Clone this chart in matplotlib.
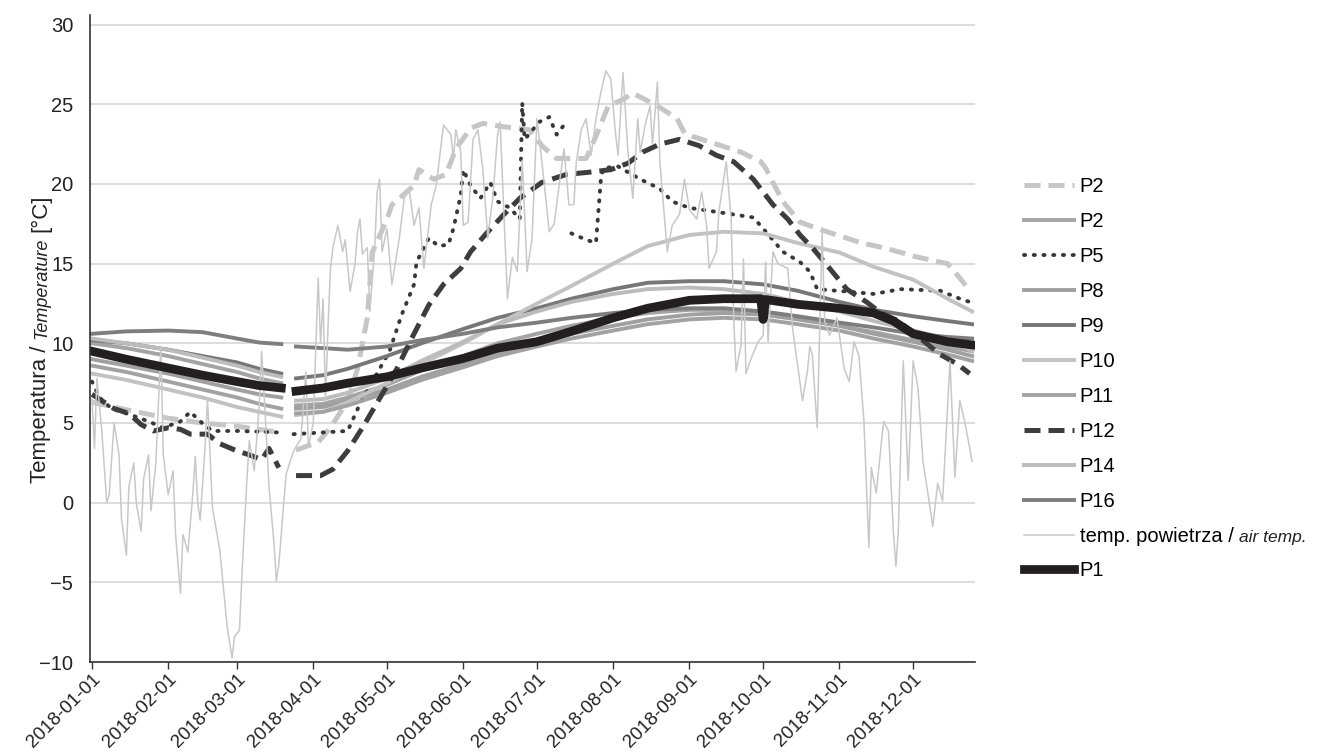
import numpy as np
import pandas as pd
import matplotlib
matplotlib.use("Agg")
import matplotlib.pyplot as plt
import matplotlib.dates as mdates

plt.rcParams['font.family'] = ['Liberation Sans', 'DejaVu Sans']

nan = np.nan
START = pd.Timestamp("2018-01-01")

# Dni od 1 stycznia (wspólna siatka dla gładkich serii, 80 = przerwa w pomiarach)
GRID_DAYS = [0, 14, 31, 45, 59, 68, 77, 80, 83, 94, 104, 120, 134, 151, 165, 181,
             195, 212, 226, 243, 257, 273, 287, 304, 318, 334, 348, 358]

P2_SOLID = [10.0, 9.7, 9.2, 8.7, 8.2, 7.8, 7.5, nan, 6.1, 6.2, 6.6, 7.4, 8.3, 9.2, 10.0, 10.6,
            11.1, 11.6, 11.9, 12.1, 12.1, 11.9, 11.6, 11.1, 10.7, 10.2, 9.8, 9.5]
P8 = [9.0, 8.6, 8.1, 7.6, 7.1, 6.8, 6.6, nan, 5.9, 6.0, 6.4, 7.1, 7.9, 8.7, 9.4, 10.0,
      10.6, 11.1, 11.5, 11.8, 11.9, 11.8, 11.5, 11.1, 10.6, 10.1, 9.6, 9.2]
P9 = [10.2, 10.0, 9.6, 9.2, 8.8, 8.4, 8.1, nan, 7.8, 8.0, 8.4, 9.2, 10.0, 10.9, 11.6, 12.2,
      12.8, 13.4, 13.8, 13.9, 13.9, 13.7, 13.3, 12.6, 12.1, 11.7, 11.4, 11.2]
P10 = [8.1, 7.7, 7.1, 6.6, 6.0, 5.7, 5.4, nan, 5.5, 5.7, 6.3, 7.5, 8.7, 10.0, 11.2, 12.5,
       13.6, 15.0, 16.1, 16.8, 17.0, 16.9, 16.3, 15.7, 14.8, 14.0, 12.8, 12.0]
P11 = [8.6, 8.2, 7.6, 7.1, 6.6, 6.2, 5.9, nan, 5.6, 5.7, 6.1, 6.9, 7.7, 8.5, 9.2, 9.8,
       10.3, 10.8, 11.2, 11.5, 11.6, 11.5, 11.2, 10.8, 10.3, 9.8, 9.3, 8.9]
P14 = [10.3, 10.0, 9.6, 9.1, 8.6, 8.2, 7.9, nan, 6.4, 6.5, 6.9, 7.8, 8.9, 10.1, 11.2, 12.0,
       12.6, 13.1, 13.4, 13.5, 13.4, 13.1, 12.6, 12.0, 11.4, 10.8, 10.3, 9.5]
P16 = [10.6, 10.75, 10.8, 10.7, 10.3, 10.05, 9.95, nan, 9.8, 9.7, 9.6, 9.8, 10.2, 10.6, 11.0, 11.3,
       11.6, 11.9, 12.1, 12.2, 12.2, 12.0, 11.7, 11.3, 11.0, 10.6, 10.4, 10.3]

P1_DAYS = [0, 14, 31, 45, 59, 68, 77, 80, 83, 94, 104, 120, 134, 151, 165, 181, 195, 212,
           226, 243, 257, 272, 273, 274, 287, 304, 318, 326, 334, 348, 358]
P1 = [9.5, 9.0, 8.45, 8.0, 7.6, 7.35, 7.2, nan, 7.0, 7.2, 7.5, 7.9, 8.45, 9.05, 9.7, 10.1, 10.75, 11.6,
      12.2, 12.7, 12.8, 12.8, 11.5, 12.75, 12.45, 12.2, 11.9, 11.4, 10.6, 10.1, 9.9]

P2_DASH_DAYS = [0, 15, 31, 45, 59, 72, 77, 80, 83, 92, 97, 104, 108, 112, 114, 120, 122, 131, 133,
                139, 144, 148, 154, 159, 167, 178, 183, 189, 201, 205, 210, 216, 220, 230, 238,
                241, 244, 254, 264, 272, 274, 281, 288, 299, 313, 322, 336, 348, 353, 357]
P2_DASH = [6.3, 5.8, 5.3, 5.0, 4.8, 4.5, 4.4, nan, 3.3, 3.8, 4.7, 6.4, 8.4, 11.6, 15.7, 17.8, 18.7,
           19.9, 20.9, 20.3, 20.6, 22.2, 23.5, 23.8, 23.6, 23.4, 22.4, 21.6, 21.6, 23.0, 24.9,
           25.3, 25.7, 24.9, 24.1, 23.2, 23.0, 22.5, 22.0, 21.4, 21.0, 18.9, 17.6, 17.0, 16.3,
           16.0, 15.4, 15.0, 14.1, 13.3]

P5_DAYS = [0, 3, 8, 16, 23, 29, 36, 40, 44, 49, 60, 77, 80, 82, 104, 109, 121, 126, 131, 132,
           137, 141, 145, 147, 150, 151, 154, 158, 162, 165, 170, 174, 175, 176, 182, 186, 189,
           193, 194, 195, 201, 205, 207, 208, 214, 223, 231, 236, 243, 254, 269, 273, 281, 288,
           292, 295, 307, 318, 329, 345, 353, 357]
P5 = [7.6, 6.6, 5.9, 5.5, 5.1, 4.7, 5.1, 5.7, 5.1, 4.5, 4.5, 4.4, nan, 4.3, 4.5, 6.2, 9.5, 11.8,
      13.7, 15.1, 16.6, 16.1, 16.2, 17.2, 19.3, 20.9, 19.9, 19.1, 20.1, 18.9, 18.5, 17.8, 25.1,
      22.8, 23.9, 24.2, 23.1, 23.9, nan, 16.9, 16.5, 16.3, 20.3, 21.0, 21.1, 20.3, 19.7, 18.9,
      18.5, 18.25, 17.9, 17.2, 15.75, 15.1, 14.5, 13.4, 13.25, 13.1, 13.4, 13.3, 12.8, 12.6]

P12_DAYS = [0, 9, 15, 20, 25, 31, 36, 40, 47, 52, 59, 64, 69, 72, 76, 79, 83, 93, 98, 104, 110,
            118, 124, 131, 137, 143, 150, 154, 161, 167, 174, 183, 193, 203, 211, 218, 224, 231,
            239, 247, 254, 261, 269, 277, 283, 288, 293, 299, 307, 315, 321, 328, 337, 345, 352, 357]
P12 = [6.8, 5.9, 5.6, 4.9, 4.5, 4.7, 4.6, 4.3, 4.3, 3.7, 3.25, 3.0, 2.7, 3.4, 2.2, nan, 1.7, 1.7,
       2.1, 3.25, 4.7, 6.8, 8.4, 10.6, 12.4, 13.7, 14.7, 15.75, 17.0, 18.0, 19.1, 20.1, 20.6,
       20.75, 20.9, 21.3, 22.0, 22.5, 22.8, 22.4, 21.8, 21.4, 20.3, 18.7, 17.8, 16.8, 16.0,
       14.9, 13.4, 12.6, 11.9, 11.4, 10.3, 9.3, 8.7, 8.1]

AIR_DAYS = [0, 1, 2, 4, 6, 7, 9, 11, 12, 14, 15, 17, 18, 20, 21, 23, 24, 26, 28, 29, 31, 33, 34,
            36, 37, 39, 41, 42, 43, 44, 46, 47, 49, 52, 55, 57, 58, 60, 61, 63, 64, 66, 68, 69,
            71, 72, 74, 75, 76, 78, 79, 82, 83, 85, 87, 88, 90, 92, 93, 94, 95, 96, 97, 98, 100,
            102, 103, 105, 107, 108, 109, 110, 112, 113, 115, 116, 117, 118, 120, 122, 125, 127,
            129, 131, 133, 135, 138, 140, 143, 146, 147, 148, 150, 151, 153, 155, 157, 159, 161,
            163, 165, 166, 169, 171, 173, 175, 177, 179, 181, 183, 186, 188, 190, 192, 194, 196,
            197, 199, 201, 203, 205, 207, 209, 211, 213, 214, 216, 218, 220, 222, 223, 225, 227,
            228, 230, 231, 232, 234, 236, 239, 241, 243, 246, 248, 250, 251, 254, 255, 258, 260,
            261, 262, 264, 265, 266, 268, 271, 273, 274, 275, 277, 279, 283, 285, 289, 291, 292,
            293, 295, 297, 298, 300, 303, 306, 308, 310, 312, 314, 316, 317, 319, 322, 324, 326,
            327, 328, 330, 332, 334, 336, 338, 340, 342, 344, 346, 349, 351, 353, 355, 358]
AIR = [6.5, 3.4, 7.8, 4.5, 0.0, 0.5, 5.0, 3.0, -1.0, -3.3, 1.0, 2.5, 0.0, -1.8, 1.5, 3.0, -0.5,
       2.5, 9.8, 3.0, 0.5, 2.0, -2.0, -5.7, -2.0, -3.1, 0.5, 2.9, 0.0, -1.1, 3.5, 6.5, -0.3,
       -3.0, -7.8, -9.75, -8.4, -8.0, -4.5, 1.4, 3.9, 2.0, 6.0, 9.5, 4.0, 1.0, -2.5, -4.9, -3.9,
       0.0, 1.8, 3.25, 3.5, 4.0, 8.2, 3.5, 5.0, 14.1, 10.0, 12.8, 6.4, 11.0, 14.7, 16.0, 17.4,
       15.75, 16.5, 13.25, 15.0, 17.0, 17.8, 15.6, 16.0, 12.0, 16.0, 19.5, 20.3, 15.75, 17.2,
       13.7, 16.6, 19.1, 19.7, 17.4, 18.5, 14.7, 18.7, 19.9, 23.7, 23.1, 21.6, 23.4, 22.0, 17.4,
       17.6, 22.8, 23.4, 20.9, 16.6, 19.1, 23.1, 23.9, 12.8, 15.4, 14.5, 21.5, 14.5, 16.6, 24.1,
       21.4, 17.0, 17.5, 19.9, 22.2, 18.7, 18.7, 21.4, 23.4, 24.1, 21.8, 24.1, 25.75, 27.1,
       26.6, 23.1, 21.8, 27.0, 22.0, 19.1, 24.1, 22.0, 23.7, 24.9, 22.5, 26.4, 21.4, 19.5,
       15.75, 17.4, 18.1, 20.3, 18.4, 17.8, 19.5, 17.4, 14.7, 15.75, 18.25, 21.4, 17.8, 11.6,
       8.25, 9.9, 15.3, 8.1, 9.0, 10.1, 10.5, 15.1, 10.1, 15.75, 15.0, 14.7, 10.9, 6.4, 8.25,
       9.8, 9.3, 4.7, 17.0, 11.4, 10.5, 11.6, 8.4, 7.6, 10.1, 9.2, 5.1, -2.8, 2.2, 0.6, 5.1,
       4.5, -1.9, -4.0, -1.75, 8.9, 1.4, 8.9, 7.2, 2.6, 0.6, -1.5, 1.2, 0.1, 8.9, 1.6, 6.4, 5.1,
       2.6]

MONTH_TICKS = pd.date_range("2018-01-01", "2018-12-01", freq="MS")


def to_dates(days):
    return START + pd.to_timedelta(days, unit="D")


fig = plt.figure(figsize=(13.18, 7.54), dpi=100)
ax = fig.add_axes([0.0683, 0.122, 0.6715, 0.858])

# Serie w kolejności legendy
ax.plot(to_dates(P2_DASH_DAYS), P2_DASH, color="#c6c6c6", lw=3.6, dashes=(3.2, 1.6), label="P2")
ax.plot(to_dates(GRID_DAYS), P2_SOLID, color="#a4a4a4", lw=2.8, label="P2")
ax.plot(to_dates(P5_DAYS), P5, color="#383838", lw=2.8, dashes=(0.3, 2.2),
        dash_capstyle="round", label="P5")
ax.plot(to_dates(GRID_DAYS), P8, color="#a0a0a0", lw=2.8, label="P8")
ax.plot(to_dates(GRID_DAYS), P9, color="#777777", lw=2.8, label="P9")
ax.plot(to_dates(GRID_DAYS), P10, color="#c2c2c2", lw=2.8, label="P10")
ax.plot(to_dates(GRID_DAYS), P11, color="#a2a2a2", lw=2.8, label="P11")
ax.plot(to_dates(P12_DAYS), P12, color="#3d3d3d", lw=3.6, dashes=(3.2, 1.6), label="P12")
ax.plot(to_dates(GRID_DAYS), P14, color="#bcbcbc", lw=2.8, label="P14")
ax.plot(to_dates(GRID_DAYS), P16, color="#7e7e7e", lw=2.8, label="P16")
ax.plot(to_dates(AIR_DAYS), AIR, color="#c8c8c8", lw=1.1, label="temp. powietrza /")
ax.plot(to_dates(P1_DAYS), P1, color="#231f20", lw=6.3, label="P1")

# Osie
ax.set_ylim(-10, 30.6)
ax.set_xlim(START - pd.Timedelta(days=0.8), START + pd.Timedelta(days=359.2))
ax.set_yticks(range(-10, 31, 5))
ax.set_xticks(MONTH_TICKS)
ax.xaxis.set_major_formatter(mdates.DateFormatter("%Y-%m-%d"))
ax.tick_params(axis="y", length=0, pad=12, labelsize=14.5, colors="#222222")
ax.tick_params(axis="x", length=5, width=1, color="#333333", pad=1, labelsize=13.5,
               labelcolor="#222222")
for lab in ax.get_xticklabels():
    lab.set_rotation(45)
    lab.set_ha("right")
    lab.set_rotation_mode("anchor")

ax.grid(axis="y", color="#dddddd", lw=1.5)
ax.set_axisbelow(True)
for side in ["top", "right"]:
    ax.spines[side].set_visible(False)
for side in ["left", "bottom"]:
    ax.spines[side].set_color("#333333")
    ax.spines[side].set_linewidth(1.2)

leg = ax.legend(loc="upper left", bbox_to_anchor=(0.7695, 0.778), bbox_transform=fig.transFigure,
                frameon=False, fontsize=14.5, handlelength=2.45, handletextpad=0.3,
                labelspacing=0.79, borderpad=0)

fig.canvas.draw()
renderer = fig.canvas.get_renderer()

# Kursywa w legendzie: "air temp."
air_txt = leg.get_texts()[10]
bb = air_txt.get_window_extent(renderer)
fig.text(bb.x1 + 5, bb.y0 + 1, "air temp.", style="italic", fontsize=12.5,
         transform=None, ha="left", va="bottom", color="#222222")

# Etykieta osi Y złożona z trzech części
parts = [("Temperatura /", "normal", 16), ("Temperature", "italic", 13), ("[°C]", "normal", 16)]
ylab = [fig.text(0, 0, s, rotation=90, style=st, fontsize=fs, color="#222222",
                 ha="left", va="baseline", rotation_mode="anchor") for s, st, fs in parts]
fig.canvas.draw()
gap = 6
lengths = [t.get_window_extent(renderer).height for t in ylab]
total = sum(lengths) + gap * (len(lengths) - 1)
ax_bb = ax.get_window_extent(renderer)
y = (ax_bb.y0 + ax_bb.y1) / 2 - total / 2
for t, h in zip(ylab, lengths):
    t.set_transform(None)
    t.set_position((46, y))
    y += h + gap

fig.savefig("out.png", dpi=100)
